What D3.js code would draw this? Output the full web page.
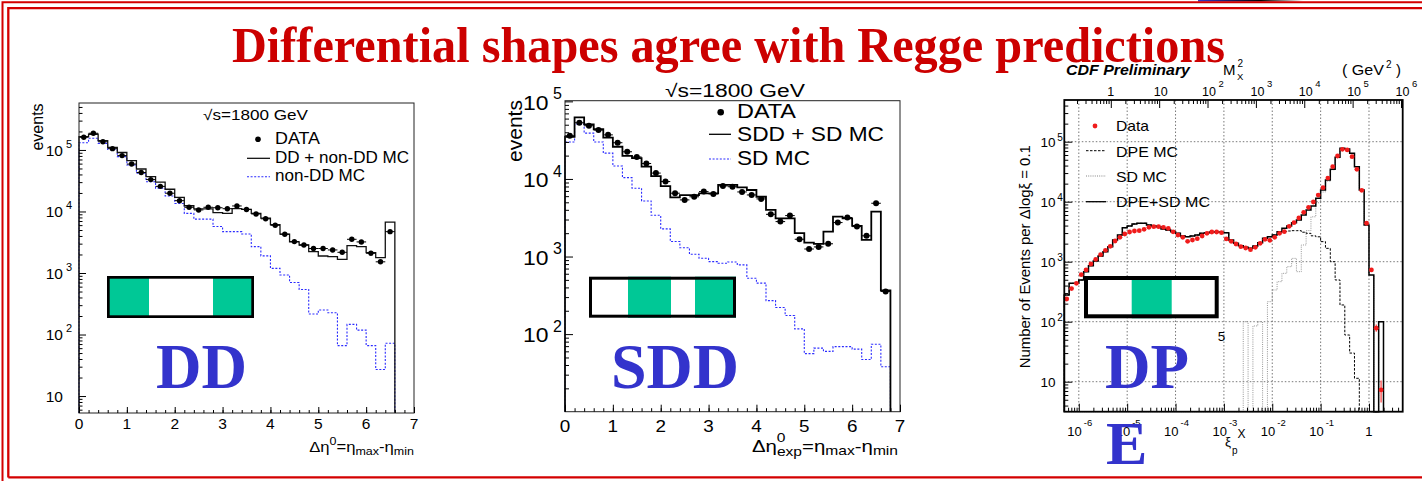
<!DOCTYPE html>
<html>
<head>
<meta charset="utf-8">
<script src="https://cdn.jsdelivr.net/npm/d3@7"></script>
<style>
  html, body { margin: 0; padding: 0; background: #fff; overflow: hidden; }
  svg { display: block; }
</style>
</head>
<body>
<svg id="slide" width="1422" height="481"></svg>
<script>
// ---------------------------------------------------------------------------
// Data
// ---------------------------------------------------------------------------

// DD: events vs rapidity gap Δη0, 0.2-wide bins starting at 0
const ddBinWidth = 0.2;
const ddData = [1.61e5, 1.87e5, 1.36e5, 1.05e5, 8.1e4, 5.9e4, 4.3e4, 3.3e4, 2.56e4, 1.98e4,
                1.5e4, 1.17e4, 1.06e4, 1.17e4, 1.15e4, 1.11e4, 1.23e4, 1.08e4, 9.1e3, 7.6e3,
                5.96e3, 4.26e3, 3.24e3, 2.85e3, 2.5e3, 2.5e3, 2.37e3, 2.17e3, 3.53e3, 3.2e3,
                2.09e3, 1.52e3, 4.7e3];
const ddMC = [1.65e5, 1.8e5, 1.42e5, 1.1e5, 9.1e4, 6.7e4, 4.9e4, 3.7e4, 3.0e4, 2.3e4,
              1.7e4, 1.24e4, 1.1e4, 1.1e4, 9.6e3, 9.3e3, 1.11e4, 1.08e4, 9.3e3, 7.8e3,
              6.1e3, 4.3e3, 3.2e3, 2.85e3, 2.22e3, 1.89e3, 1.85e3, 1.67e3, 2.78e3, 2.68e3,
              2.14e3, 1.78e3, 6.7e3];
const ddNonDD = [1.31e5, 1.55e5, 1.28e5, 1.02e5, 7.8e4, 5.7e4, 4.2e4, 3.05e4, 2.4e4, 1.79e4,
                 1.35e4, 9.3e3, 7.5e3, 7.5e3, 5.7e3, 4.7e3, 4.7e3, 4.3e3, 2.68e3, 1.9e3,
                 1190, 930, 700, 540, 215, 250, 226, 66, 146, 118,
                 66, 27, 72];

// SDD: events vs Δη0_exp, 0.2-wide bins starting at 0
const sddBinWidth = 0.2;
const sddData = [3.6e4, 5.3e4, 4.85e4, 4.27e4, 3.7e4, 2.93e4, 2.24e4, 1.92e4, 1.58e4, 1.19e4,
                 9.25e3, 6.55e3, 5.37e3, 5.89e3, 6.87e3, 6.41e3, 8.13e3, 7.94e3, 6.8e3, 6.22e3,
                 5.53e3, 3.5e3, 2.82e3, 3.37e3, 1.67e3, 1.25e3, 1.33e3, 1.46e3, 2.74e3, 3.18e3,
                 2.43e3, 1.85e3, 4.86e3, 355];
const sddMC = [3.5e4, 6.2e4, 5.06e4, 4.37e4, 3.4e4, 2.6e4, 1.98e4, 1.85e4, 1.44e4, 1.09e4,
               8.1e3, 5.8e3, 6.2e3, 6.2e3, 6.5e3, 6.5e3, 8.4e3, 8.4e3, 7.8e3, 7.2e3,
               5.9e3, 4.0e3, 3.1e3, 3.1e3, 2.0e3, 1.51e3, 1.46e3, 2.1e3, 3.27e3, 3.1e3,
               2.48e3, 1.64e3, 3.8e3, 365];
const sddSD = [3.0e4, 5.1e4, 3.9e4, 3.0e4, 2.15e4, 1.47e4, 1.04e4, 7.6e3, 5.2e3, 3.4e3,
               2270, 1560, 1300, 1070, 950, 860, 820, 850, 780, 525,
               454, 270, 220, 174, 117, 56, 66, 60, 69, 69,
               64, 47, 74, 38];

// DPE: events per Δlog10 ξp = 0.1, bins starting at log10 ξp = -6.3
const dpeLogStart = -6.3;
const dpeLogStep = 0.1;
const dpeData = [239, 356, 436, 608, 728, 916, 1096, 1310, 1549, 1803,
                 2213, 2547, 2897, 3128, 3251, 3291, 3465, 3742, 3839, 3839,
                 3742, 3597, 3150, 2786, 2547, 2186, 2301, 2422, 2681, 2971,
                 3128, 3128, 3048, 2400, 2186, 1972, 1780, 1691, 1586, 1736,
                 2024, 2361, 2271, 2547, 2971, 3164, 3887, 4467, 5346, 6653,
                 8054, 9886, 12900, 17100, 24800, 38400, 57800, 74600, 72800, 56300,
                 34700, 15500, 4370, 728, 78, 7.3];
const dpeTotalMC = [279, 436, 436, 496, 682, 859, 1027, 1245, 1470, 1780,
                    2301, 2786, 3690, 3936, 4250, 4364, 4364, 4093, 3936, 3839,
                    3510, 3377, 3164, 2971, 2681, 2612, 2681, 2786, 2971, 3048,
                    3128, 3128, 3088, 3048, 2301, 2024, 1850, 1736, 1672, 1827,
                    2076, 2453, 2612, 2786, 3164, 3597, 3936, 4467, 4955, 6000,
                    7278, 8472, 11400, 15700, 23000, 34700, 55000, 77600, 75600, 64000,
                    38400, 15700, 4093, 600, 0, 100];
const dpeDPEMC = [279, 436, 436, 496, 682, 859, 1027, 1245, 1470, 1780,
                  2301, 2786, 3690, 3936, 4250, 4364, 4364, 4093, 3936, 3839,
                  3510, 3377, 3164, 2971, 2681, 2612, 2681, 2786, 2971, 3048,
                  3128, 3128, 3088, 3048, 2301, 2024, 1850, 1736, 1672, 1827,
                  2076, 2453, 2612, 2786, 3100, 3200, 3250, 3290, 3290, 3100,
                  2970, 2700, 2600, 2160, 1670, 1000, 496, 190, 60, 30,
                  11.4, 0, 0, 0, 0, 0];
const dpeSDMC = [0, 0, 0, 0, 0, 0, 0, 0, 0, 0,
                 0, 0, 0, 0, 0, 0, 0, 0, 0, 0,
                 0, 0, 0, 0, 0, 0, 0, 0, 0, 0,
                 0, 0, 0, 0, 0, 0, 0, 100, 0, 85,
                 100, 0, 216, 338, 465, 640, 826, 1136, 682, 1900,
                 3300, 5600, 9600, 14500, 22000, 34000, 54000, 77000, 75000, 63500,
                 38000, 15500, 4050, 600, 0, 100];
// [bin, lower, upper] for the visible statistical error bars
const dpeErrBars = [[64, 68, 90], [65, 4.5, 10.5]];
// M_X^2 (GeV^2) per unit of ξp for the upper axis
const mx2PerXi = 2.18e5;

// axis ticks
const ddXTicks = [0, 1, 2, 3, 4, 5, 6, 7];
const ddYTicks = [10, 1e2, 1e3, 1e4, 1e5];
const sddXTicks = [0, 1, 2, 3, 4, 5, 6, 7];
const sddYTicks = [1e2, 1e3, 1e4, 1e5];
const dpeYTicks = [10, 1e2, 1e3, 1e4, 1e5];
const xiTicks = [1e-6, 1e-5, 1e-4, 1e-3, 1e-2, 1e-1, 1];
const mx2Ticks = [1, 10, 1e2, 1e3, 1e4, 1e5, 1e6];

// ---------------------------------------------------------------------------
// Helpers
// ---------------------------------------------------------------------------
const SANS = "'Liberation Sans', Arial, Helvetica, sans-serif";
const SERIF = "'Liberation Serif', 'Times New Roman', serif";
const RED = "#cc0000";
const BLUE_TXT = "#3333cc";
const BLUE_LINE = "#2b2bff";
const GREEN = "#00c896";

const svg = d3.select("#slide");

function addText(parent, x, y, str, o = {}) {
  const t = parent.append("text")
    .attr("x", x).attr("y", y)
    .attr("font-family", o.family || SANS)
    .attr("font-size", o.size || 14)
    .attr("fill", o.fill || "#000")
    .attr("text-anchor", o.anchor || "start")
    .text(str);
  if (o.weight) t.attr("font-weight", o.weight);
  if (o.style) t.attr("font-style", o.style);
  if (o.len) t.attr("textLength", o.len).attr("lengthAdjust", "spacingAndGlyphs");
  return t;
}

// step outline of a histogram, closed down to the lower edge of the plot
function histPath(x, y, values, edge) {
  const base = y.range()[0];
  const pts = [[x(edge(0)), base]];
  values.forEach((v, i) => {
    const yy = v > 0 ? y(v) : base;
    pts.push([x(edge(i)), yy], [x(edge(i + 1)), yy]);
  });
  pts.push([x(edge(values.length)), base]);
  return d3.line()(pts);
}

function logMinors(scale) {
  const [a, b] = scale.domain();
  const out = [];
  for (let e = Math.floor(Math.log10(a)); e <= Math.ceil(Math.log10(b)); e++) {
    for (let m = 2; m <= 9; m++) {
      const v = m * Math.pow(10, e);
      if (v >= a && v <= b) out.push(v);
    }
  }
  return out;
}

function tickAxis(parent, axisFn, scale, values, size, transform, width) {
  parent.append("g").attr("transform", transform)
    .call(axisFn(scale).tickValues(values).tickSize(size).tickFormat(""))
    .call(s => s.select(".domain").remove())
    .selectAll("line").attr("stroke", "#000").attr("stroke-width", width || 1);
}

function expOf(v) { return Math.round(Math.log10(v)); }

// "10" followed by a raised exponent
function powLabel(parent, xEnd, yBase, v, o) {
  const e = expOf(v);
  addText(parent, xEnd, yBase, e === 0 ? "1" : "10", { size: o.size, anchor: "end", len: o.len });
  if (e !== 0 && e !== 1) {
    addText(parent, xEnd + o.supDx, yBase - o.supDy, String(e), { size: o.supSize });
  }
}

function dataPoints(parent, x, y, values, edge, r, colour) {
  const g = parent.append("g");
  values.forEach((v, i) => {
    if (!(v > 0)) return;
    const cx = (x(edge(i)) + x(edge(i + 1))) / 2;
    g.append("line").attr("x1", x(edge(i))).attr("x2", x(edge(i + 1)))
      .attr("y1", y(v)).attr("y2", y(v)).attr("stroke", colour).attr("stroke-width", 1);
    g.append("circle").attr("cx", cx).attr("cy", y(v)).attr("r", r).attr("fill", colour);
  });
}

// diagram of the detector with the gap regions (grey-green = particles)
function gapBox(parent, x0, x1, y0, y1, sw, fills) {
  const g = parent.append("g");
  g.append("rect").attr("x", x0).attr("y", y0).attr("width", x1 - x0).attr("height", y1 - y0)
    .attr("fill", "#fff");
  fills.forEach(([a, b]) => {
    g.append("rect").attr("x", a).attr("y", y0).attr("width", b - a).attr("height", y1 - y0)
      .attr("fill", GREEN);
  });
  g.append("rect").attr("x", x0 + sw / 2).attr("y", y0 + sw / 2)
    .attr("width", x1 - x0 - sw).attr("height", y1 - y0 - sw)
    .attr("fill", "none").attr("stroke", "#000").attr("stroke-width", sw);
}

// ---------------------------------------------------------------------------
// Slide background, frame, title
// ---------------------------------------------------------------------------
svg.append("rect").attr("width", 1422).attr("height", 481).attr("fill", "#fff");

const defs = svg.append("defs");
const grad = defs.append("linearGradient").attr("id", "cornerStrip")
  .attr("x1", "0%").attr("x2", "100%").attr("y1", "0%").attr("y2", "0%");
grad.append("stop").attr("offset", "0%").attr("stop-color", "#3535c8");
grad.append("stop").attr("offset", "60%").attr("stop-color", "#000");
grad.append("stop").attr("offset", "100%").attr("stop-color", "#fff");
svg.append("rect").attr("x", 1198).attr("y", 0).attr("width", 105).attr("height", 1.6)
  .attr("fill", "url(#cornerStrip)");

const frame = svg.append("g").attr("fill", "none").attr("stroke", "#d40000");
frame.append("path").attr("d", "M2.5,481 V2.2 H1422").attr("stroke-width", 2);
frame.append("path").attr("d", "M8.3,477.4 V8.1 H1422 M8.3,477.4 H1422").attr("stroke-width", 2.3);

addText(svg, 728.5, 61.5, "Differential shapes agree with Regge predictions",
  { family: SERIF, size: 50, weight: "bold", fill: RED, anchor: "middle", len: 993 });

// ---------------------------------------------------------------------------
// Panel 1: DD
// ---------------------------------------------------------------------------
{
  const P = { l: 79, r: 414, t: 103, b: 413 };
  const x = d3.scaleLinear().domain([0, 7]).range([P.l, P.r]);
  const y = d3.scaleLog().domain([5.3, 5.8e5]).range([P.b, P.t]).clamp(true);
  const edge = i => i * ddBinWidth;
  const g = svg.append("g");

  g.append("path").attr("d", histPath(x, y, ddNonDD, edge)).attr("fill", "none")
    .attr("stroke", BLUE_LINE).attr("stroke-width", 1.1).attr("stroke-dasharray", "2,1.6");
  g.append("path").attr("d", histPath(x, y, ddMC, edge)).attr("fill", "none")
    .attr("stroke", "#111").attr("stroke-width", 1.3);
  dataPoints(g, x, y, ddData, edge, 2.7, "#000");

  g.append("rect").attr("x", P.l).attr("y", P.t).attr("width", P.r - P.l).attr("height", P.b - P.t)
    .attr("fill", "none").attr("stroke", "#222").attr("stroke-width", 1);

  tickAxis(g, d3.axisBottom, x, ddXTicks, -6, `translate(0,${P.b})`);
  tickAxis(g, d3.axisBottom, x, d3.range(0, 7.001, 0.2).map(v => +v.toFixed(1)), -3, `translate(0,${P.b})`);
  tickAxis(g, d3.axisLeft, y, ddYTicks, -7, `translate(${P.l},0)`);
  tickAxis(g, d3.axisLeft, y, logMinors(y), -3.5, `translate(${P.l},0)`);

  ddXTicks.forEach(v => addText(g, x(v), 429.3, String(v), { size: 15.5, anchor: "middle" }));
  ddYTicks.forEach(v => powLabel(g, 63, y(v) + 5.8, v, { size: 15.5, supSize: 11, supDx: 3, supDy: 8 }));

  addText(g, 0, 0, "events", { size: 16, anchor: "middle" })
    .attr("transform", "translate(42.5,127) rotate(-90)");

  const xt = g.append("g").attr("transform", "translate(414,451.7) scale(1.19,1)")
    .append("text").attr("font-family", SANS).attr("font-size", 14).attr("text-anchor", "end");
  xt.append("tspan").text("Δη");
  xt.append("tspan").attr("font-size", 10.5).attr("dy", -6.5).text("0");
  xt.append("tspan").attr("dy", 6.5).text("=η");
  xt.append("tspan").attr("font-size", 10.5).attr("dy", 3).text("max");
  xt.append("tspan").attr("dy", -3).text("-η");
  xt.append("tspan").attr("font-size", 10.5).attr("dy", 3).text("min");

  addText(g, 255.5, 120, "√s=1800 GeV", { size: 14.5, anchor: "middle", len: 105 });

  // legend
  g.append("circle").attr("cx", 258).attr("cy", 139.3).attr("r", 2.8).attr("fill", "#000");
  addText(g, 275, 144, "DATA", { size: 16, len: 45 });
  g.append("line").attr("x1", 247).attr("x2", 270).attr("y1", 158.3).attr("y2", 158.3)
    .attr("stroke", "#000").attr("stroke-width", 1.2);
  addText(g, 275, 163.3, "DD + non-DD MC", { size: 16, len: 134 });
  g.append("line").attr("x1", 247).attr("x2", 270).attr("y1", 176.7).attr("y2", 176.7)
    .attr("stroke", BLUE_LINE).attr("stroke-width", 1.1).attr("stroke-dasharray", "2,1.6");
  addText(g, 275, 181.3, "non-DD MC", { size: 16, len: 90 });

  gapBox(g, 107, 254, 276, 318, 2.7, [[107, 149], [213, 254]]);
  addText(g, 156, 388, "DD", { family: SERIF, size: 63, weight: "bold", fill: BLUE_TXT });
}

// ---------------------------------------------------------------------------
// Panel 2: SDD
// ---------------------------------------------------------------------------
{
  const P = { l: 565, r: 900, t: 100.7, b: 411.7 };
  const x = d3.scaleLinear().domain([0, 7]).range([P.l, P.r]);
  const y = d3.scaleLog().domain([10, 1.02e5]).range([P.b, P.t]).clamp(true);
  const edge = i => i * sddBinWidth;
  const g = svg.append("g");

  g.append("path").attr("d", histPath(x, y, sddSD, edge)).attr("fill", "none")
    .attr("stroke", BLUE_LINE).attr("stroke-width", 1.1).attr("stroke-dasharray", "2,1.6");
  g.append("path").attr("d", histPath(x, y, sddMC, edge)).attr("fill", "none")
    .attr("stroke", "#000").attr("stroke-width", 1.8);
  dataPoints(g, x, y, sddData, edge, 3, "#000");

  g.append("rect").attr("x", P.l).attr("y", P.t).attr("width", P.r - P.l).attr("height", P.b - P.t)
    .attr("fill", "none").attr("stroke", "#222").attr("stroke-width", 1);

  tickAxis(g, d3.axisBottom, x, sddXTicks, -7, `translate(0,${P.b})`);
  tickAxis(g, d3.axisBottom, x, d3.range(0, 7.001, 0.2).map(v => +v.toFixed(1)), -3.5, `translate(0,${P.b})`);
  tickAxis(g, d3.axisLeft, y, sddYTicks, -8, `translate(${P.l},0)`);
  tickAxis(g, d3.axisLeft, y, logMinors(y), -4, `translate(${P.l},0)`);

  sddXTicks.forEach(v => addText(g, x(v), 431.7, String(v), { size: 17, anchor: "middle", len: 10.5 }));
  sddYTicks.forEach(v => powLabel(g, 548.5, y(v) + 8.3, v,
    { size: 21, len: 25.5, supSize: 16, supDx: 4.5, supDy: 10.5 }));

  addText(g, 0, 0, "events", { size: 21, anchor: "middle" })
    .attr("transform", "translate(521.5,131) rotate(-90)");

  const xt = g.append("g").attr("transform", "translate(898,451.7) scale(1.2,1)")
    .append("text").attr("font-family", SANS).attr("font-size", 17).attr("text-anchor", "end");
  xt.append("tspan").text("Δη");
  xt.append("tspan").attr("font-size", 13).attr("dy", -9.5).text("0");
  xt.append("tspan").attr("font-size", 13).attr("dx", -7.2).attr("dy", 14).text("exp");
  xt.append("tspan").attr("dy", -4.5).text("=η");
  xt.append("tspan").attr("font-size", 13).attr("dy", 3.5).text("max");
  xt.append("tspan").attr("dy", -3.5).text("-η");
  xt.append("tspan").attr("font-size", 13).attr("dy", 3.5).text("min");

  addText(g, 735, 96.7, "√s=1800 GeV", { size: 18, anchor: "middle", len: 140 });

  // legend
  g.append("circle").attr("cx", 720.7).attr("cy", 112.3).attr("r", 3.3).attr("fill", "#000");
  addText(g, 737, 117.7, "DATA", { size: 19.5, len: 59 });
  g.append("line").attr("x1", 709).attr("x2", 731).attr("y1", 134.3).attr("y2", 134.3)
    .attr("stroke", "#000").attr("stroke-width", 1.3);
  addText(g, 737, 141, "SDD + SD MC", { size: 19.5, len: 147 });
  g.append("line").attr("x1", 709).attr("x2", 731).attr("y1", 159).attr("y2", 159)
    .attr("stroke", BLUE_LINE).attr("stroke-width", 1.1).attr("stroke-dasharray", "2,1.6");
  addText(g, 737, 165, "SD MC", { size: 19.5, len: 73 });

  gapBox(g, 589, 736, 276.7, 317.7, 3, [[628, 671], [695, 736]]);
  addText(g, 611, 388, "SDD", { family: SERIF, size: 64, weight: "bold", fill: BLUE_TXT });
}

// ---------------------------------------------------------------------------
// Panel 3: DPE
// ---------------------------------------------------------------------------
{
  const P = { l: 1064.3, r: 1402.7, t: 100, b: 411.7 };
  const x = d3.scaleLog().domain([Math.pow(10, -6.3), Math.pow(10, 0.697)]).range([P.l, P.r]);
  const y = d3.scaleLog().domain([Math.pow(10, 0.5), Math.pow(10, 5.695)]).range([P.b, P.t]).clamp(true);
  const m = d3.scaleLog().domain(x.domain().map(d => d * mx2PerXi)).range([P.l, P.r]);
  const edge = i => Math.pow(10, dpeLogStart + i * dpeLogStep);
  const g = svg.append("g");

  // dotted grid
  const grid = g.append("g").attr("stroke", "#555").attr("stroke-width", 0.8)
    .attr("stroke-dasharray", "1.5,2");
  xiTicks.forEach(v => grid.append("line").attr("x1", x(v)).attr("x2", x(v))
    .attr("y1", P.t).attr("y2", P.b));
  dpeYTicks.forEach(v => grid.append("line").attr("x1", P.l).attr("x2", P.r)
    .attr("y1", y(v)).attr("y2", y(v)));

  g.append("path").attr("d", histPath(x, y, dpeSDMC, edge)).attr("fill", "none")
    .attr("stroke", "#8a8a8a").attr("stroke-width", 0.9).attr("stroke-dasharray", "1,1.2");
  g.append("path").attr("d", histPath(x, y, dpeDPEMC, edge)).attr("fill", "none")
    .attr("stroke", "#000").attr("stroke-width", 1).attr("stroke-dasharray", "2.5,1.5");
  g.append("path").attr("d", histPath(x, y, dpeTotalMC, edge)).attr("fill", "none")
    .attr("stroke", "#000").attr("stroke-width", 1.5);

  dpeErrBars.forEach(([i, lo, hi]) => {
    const cx = (x(edge(i)) + x(edge(i + 1))) / 2;
    g.append("line").attr("x1", cx).attr("x2", cx).attr("y1", y(lo)).attr("y2", y(hi))
      .attr("stroke", "#ff4040").attr("stroke-width", 1.2);
  });
  dpeData.forEach((v, i) => {
    const cx = (x(edge(i)) + x(edge(i + 1))) / 2;
    g.append("circle").attr("cx", cx).attr("cy", y(v)).attr("r", 2.4).attr("fill", "#f01c1c");
  });

  g.append("rect").attr("x", P.l).attr("y", P.t).attr("width", P.r - P.l).attr("height", P.b - P.t)
    .attr("fill", "none").attr("stroke", "#000").attr("stroke-width", 1.8);

  tickAxis(g, d3.axisBottom, x, xiTicks, -8, `translate(0,${P.b})`);
  tickAxis(g, d3.axisBottom, x, logMinors(x), -4, `translate(0,${P.b})`);
  tickAxis(g, d3.axisLeft, y, dpeYTicks, -8, `translate(${P.l},0)`);
  tickAxis(g, d3.axisLeft, y, logMinors(y), -4, `translate(${P.l},0)`);
  tickAxis(g, d3.axisTop, m, mx2Ticks, -8, `translate(0,${P.t})`);
  tickAxis(g, d3.axisTop, m, logMinors(m), -4, `translate(0,${P.t})`);

  // left labels
  dpeYTicks.forEach(v => powLabel(g, 1055.5, y(v) + 5.5, v,
    { size: 13.5, supSize: 10, supDx: 1.8, supDy: 6.5 }));

  // bottom ξp labels
  xiTicks.forEach(v => {
    const e = expOf(v), px = x(v);
    if (e === 0) {
      addText(g, px, 435.7, "1", { size: 13, anchor: "middle" });
    } else {
      addText(g, px + 3, 435.7, "10", { size: 13, anchor: "end" });
      addText(g, px + 5, 425.5, String(e), { size: 9.5 });
    }
  });

  // upper M_X^2 labels
  mx2Ticks.forEach(v => {
    const e = expOf(v), px = m(v);
    if (e === 0) {
      addText(g, px, 96, "1", { size: 12.5, anchor: "middle" });
    } else {
      addText(g, px + 1.5, 96, "10", { size: 12.5, anchor: "middle" });
      if (e > 1) addText(g, px + 11, 86.5, String(e), { size: 9.5 });
    }
  });

  addText(g, 1066, 75, "CDF Preliminary", { size: 14, weight: "bold", style: "italic", len: 124 });
  addText(g, 1223, 75, "M", { size: 15 });
  addText(g, 1237.5, 67, "2", { size: 10 });
  addText(g, 1237, 79.5, "X", { size: 9.5 });
  addText(g, 1342, 75, "( GeV", { size: 15, len: 42 });
  addText(g, 1386, 67.5, "2", { size: 10 });
  addText(g, 1396, 75, ")", { size: 15 });

  // axis title under the ξ scale
  addText(g, 1237.5, 438, "X", { size: 12 });
  addText(g, 1225, 446, "ξ", { size: 13.5 });
  addText(g, 1232, 454, "p", { size: 10 });

  addText(g, 0, 0, "Number of Events per Δlogξ = 0.1", { size: 14, anchor: "middle", len: 223 })
    .attr("transform", "translate(1029.5,256.7) rotate(-90)");

  // legend
  g.append("circle").attr("cx", 1095).attr("cy", 126).attr("r", 2.4).attr("fill", "#f01c1c");
  addText(g, 1116, 131, "Data", { size: 15, len: 33 });
  g.append("line").attr("x1", 1086).attr("x2", 1106).attr("y1", 150.7).attr("y2", 150.7)
    .attr("stroke", "#000").attr("stroke-width", 1).attr("stroke-dasharray", "2.5,1.5");
  addText(g, 1116, 156.7, "DPE MC", { size: 15, len: 62 });
  g.append("line").attr("x1", 1086).attr("x2", 1106).attr("y1", 176).attr("y2", 176)
    .attr("stroke", "#777").attr("stroke-width", 0.9).attr("stroke-dasharray", "1,1.2");
  addText(g, 1116, 181.7, "SD MC", { size: 15, len: 51 });
  g.append("line").attr("x1", 1086).attr("x2", 1106).attr("y1", 201.7).attr("y2", 201.7)
    .attr("stroke", "#000").attr("stroke-width", 1.3);
  addText(g, 1116, 206.7, "DPE+SD MC", { size: 15, len: 94 });

  gapBox(g, 1084, 1218.7, 276, 318.3, 4, [[1131.7, 1171.7]]);
  addText(g, 1221.5, 341, "5", { size: 13.5, anchor: "middle" });
  addText(g, 1105, 388, "DP", { family: SERIF, size: 63, weight: "bold", fill: BLUE_TXT });
  addText(g, 1106, 464, "E", { family: SERIF, size: 62, weight: "bold", fill: BLUE_TXT });
}
</script>
</body>
</html>
